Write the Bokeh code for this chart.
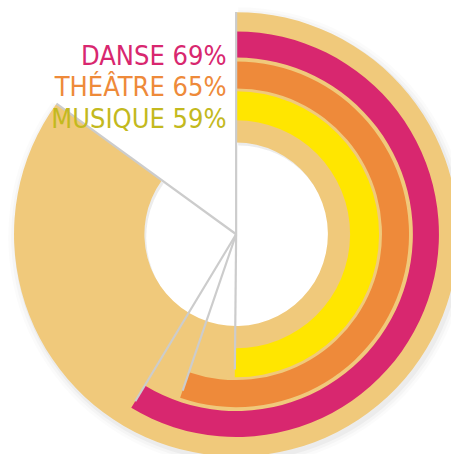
import math
from bokeh.plotting import figure
from bokeh.models import Range1d, ColumnDataSource
from bokeh.core.properties import value
from bokeh.embed import file_html
from bokeh.resources import INLINE

# ---- data ----
categories = ["DANSE", "THÉÂTRE", "MUSIQUE"]
percents = [69, 65, 59]
full_scale = 100

# ---- styles ----
band_colors = ["#D8276F", "#EE8A3A", "#FFE600"]
text_colors = ["#D8276F", "#EE8A3A", "#C3B91E"]
beige = "#F0C97B"
line_gray = "#CCCCCC"

W, H = 451, 454
# data coords = reference image pixels (x), flipped reference pixels (y)
p = figure(width=W, height=H, output_backend="svg", toolbar_location=None,
           x_range=Range1d(0, 467), y_range=Range1d(0, 470),
           min_border=0)
p.axis.visible = False
p.grid.visible = False
p.outline_line_color = None
p.background_fill_color = "white"
p.border_fill_color = "white"

cx, cy = 244, 470 - 242
R_OUT, R_IN = 230, 95
DEG_PER_PCT = 306 / full_scale
outer_r = [210, 179, 148]
inner_r = [183, 151, 118]

def ang(pct):
    # clockwise from 12 o'clock -> bokeh angle (ccw from +x)
    return math.pi / 2 - math.radians(pct * DEG_PER_PCT)

# soft shadow
for k, a in enumerate([0.035, 0.025, 0.015]):
    p.annular_wedge(x=cx + 2, y=cy - 3, inner_radius=R_IN, outer_radius=R_OUT + 2 + 3 * k,
                    start_angle=math.pi / 2, end_angle=ang(full_scale), direction="clock",
                    fill_color="black", fill_alpha=a, line_color=None)

# background ring (0..100%)
p.annular_wedge(x=cx, y=cy, inner_radius=R_IN, outer_radius=R_OUT,
                start_angle=math.pi / 2, end_angle=ang(full_scale), direction="clock",
                fill_color=beige, line_color=None)

# bands
src = ColumnDataSource(dict(
    x=[cx] * 3, y=[cy] * 3, ri=inner_r, ro=outer_r,
    start=[math.pi / 2] * 3, end=[ang(v) for v in percents], color=band_colors))
p.annular_wedge(x="x", y="y", inner_radius="ri", outer_radius="ro",
                start_angle="start", end_angle="end", direction="clock",
                fill_color="color", line_color=None, source=src)

# radial gray lines
line_targets = [(0, R_OUT), (full_scale, R_OUT)] + [
    (v, ro - 8) for v, ro in zip(percents, outer_r)]
xs, ys = [], []
for pct, r in line_targets:
    a = ang(pct)
    xs.append([cx, cx + r * math.cos(a)])
    ys.append([cy, cy + r * math.sin(a)])
p.multi_line(xs=xs, ys=ys, line_color=line_gray, line_width=2.2)

# labels
labels = [f"{c} {v}%" for c, v in zip(categories, percents)]
p.text(x=[234] * 3, y=[cy + r + 2 for r in inner_r], text=labels,
       text_color=text_colors, text_font=value("DejaVu Sans Condensed, Roboto, sans-serif"),
       text_font_size="27px", text_align="right", text_baseline="alphabetic")

open("out.html", "w").write(file_html(p, INLINE))
